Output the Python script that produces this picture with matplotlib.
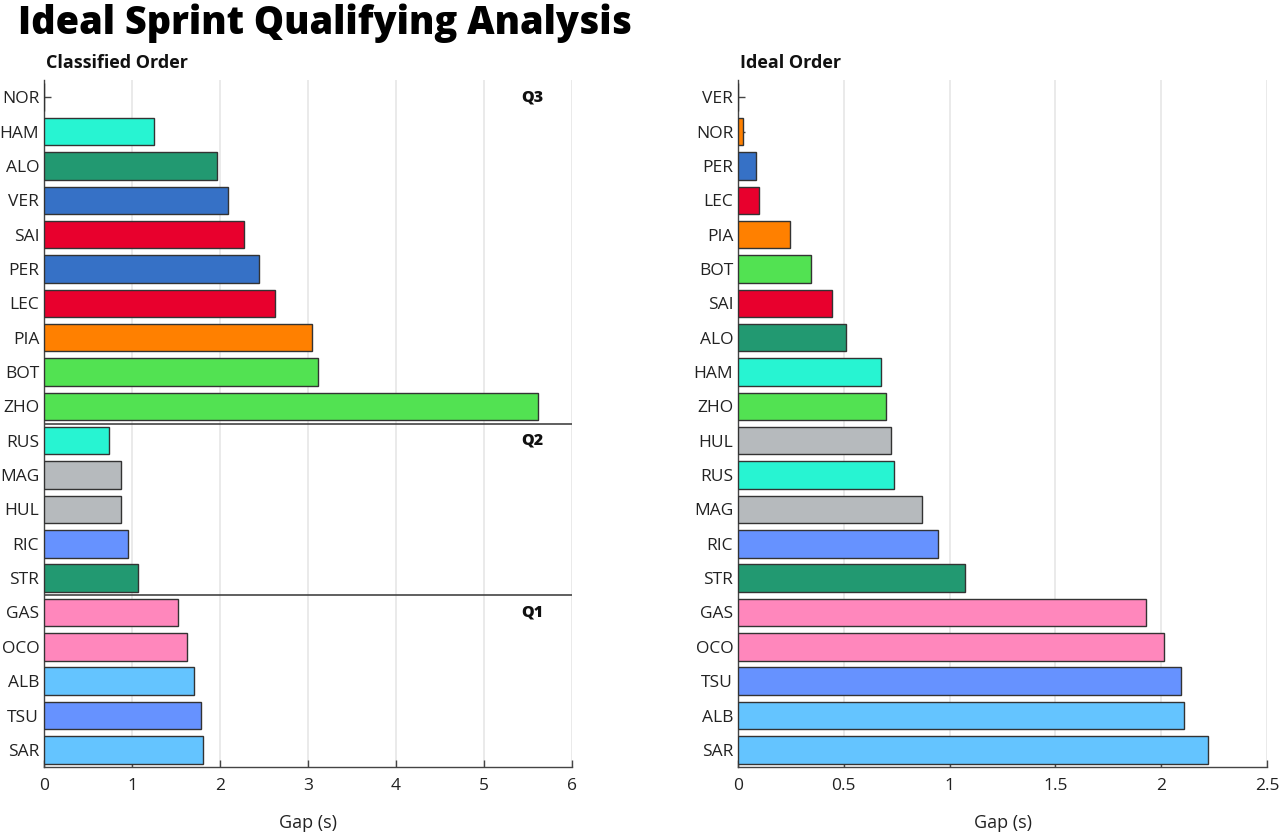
import matplotlib
matplotlib.use("Agg")
import matplotlib.pyplot as plt

# Classified order (top to bottom)
classified_drivers = ["NOR", "HAM", "ALO", "VER", "SAI", "PER", "LEC", "PIA", "BOT", "ZHO",
                      "RUS", "MAG", "HUL", "RIC", "STR",
                      "GAS", "OCO", "ALB", "TSU", "SAR"]
classified_gaps = [0.0, 1.25, 1.97, 2.09, 2.27, 2.44, 2.63, 3.05, 3.11, 5.61,
                   0.735, 0.87, 0.876, 0.95, 1.07,
                   1.52, 1.62, 1.70, 1.78, 1.81]

# Ideal order (top to bottom)
ideal_drivers = ["VER", "NOR", "PER", "LEC", "PIA", "BOT", "SAI", "ALO", "HAM", "ZHO",
                 "HUL", "RUS", "MAG", "RIC", "STR", "GAS", "OCO", "TSU", "ALB", "SAR"]
ideal_gaps = [0.0, 0.022, 0.084, 0.10, 0.245, 0.343, 0.445, 0.51, 0.677, 0.698,
              0.722, 0.737, 0.867, 0.944, 1.071, 1.926, 2.015, 2.094, 2.107, 2.221]

team_colors = {
    "NOR": "#FF8000", "PIA": "#FF8000",
    "HAM": "#27F4D2", "RUS": "#27F4D2",
    "ALO": "#229971", "STR": "#229971",
    "VER": "#3671C6", "PER": "#3671C6",
    "SAI": "#E8002D", "LEC": "#E8002D",
    "BOT": "#52E252", "ZHO": "#52E252",
    "MAG": "#B6BABD", "HUL": "#B6BABD",
    "RIC": "#6692FF", "TSU": "#6692FF",
    "GAS": "#FF87BC", "OCO": "#FF87BC",
    "ALB": "#64C4FF", "SAR": "#64C4FF",
}

session_labels = ["Q3", "Q2", "Q1"]
session_start_rows = [0, 10, 15]

plt.rcParams['font.family'] = ['Open Sans', 'DejaVu Sans']

fig = plt.figure(figsize=(12.8, 8.34), dpi=100)
ax1 = fig.add_axes([0.0344, 0.0803, 0.4125, 0.8237])
ax2 = fig.add_axes([0.5766, 0.0803, 0.4133, 0.8237])


def style_axes(ax, drivers, gaps, xlim, xticks, xticklabels):
    y = list(range(len(drivers)))
    ax.barh(y, gaps, height=0.8, color=[team_colors[d] for d in drivers],
            edgecolor="#333333", linewidth=1.0, zorder=3)
    ax.set_yticks(y)
    ax.set_yticklabels(drivers)
    ax.set_ylim(len(drivers) - 0.5, -0.5)
    ax.set_xlim(*xlim)
    ax.set_xticks(xticks)
    ax.set_xticklabels(xticklabels)
    ax.grid(axis="x", color="#e6e6e6", linewidth=1.2, zorder=0)
    ax.set_axisbelow(True)
    for s in ["top", "right"]:
        ax.spines[s].set_visible(False)
    for s in ["left", "bottom"]:
        ax.spines[s].set_color("#444444")
        ax.spines[s].set_linewidth(1.0)
    ax.tick_params(direction="in", length=5, color="#444444", labelsize=12.5,
                   labelcolor="#222222", width=1.0)
    ax.tick_params(axis="x", pad=8)
    ax.set_xlabel("Gap (s)", fontsize=13, color="#222222", labelpad=14)


style_axes(ax1, classified_drivers, classified_gaps, (0, 6),
           [0, 1, 2, 3, 4, 5, 6], ["0", "1", "2", "3", "4", "5", "6"])
style_axes(ax2, ideal_drivers, ideal_gaps, (0, 2.5),
           [0, 0.5, 1, 1.5, 2, 2.5], ["0", "0.5", "1", "1.5", "2", "2.5"])

# session separators and labels
for lab, row in zip(session_labels, session_start_rows):
    if row > 0:
        ax1.axhline(row - 0.5, color="#444444", linewidth=1.2, zorder=4)
    ax1.text(5.55, row, lab, ha="center", va="center", fontsize=11.5,
             fontweight="heavy", color="#111111", zorder=5)

ax1.text(0.003, 1.012, "Classified Order", transform=ax1.transAxes, fontsize=13,
         fontweight="bold", color="#111111", ha="left", va="bottom")
ax2.text(0.003, 1.012, "Ideal Order", transform=ax2.transAxes, fontsize=13,
         fontweight="bold", color="#111111", ha="left", va="bottom")

fig.text(0.014, 0.972, "Ideal Sprint Qualifying Analysis", fontsize=27.3,
         fontweight="heavy", color="#000000", ha="left", va="center",
         family=["Open Sans", "DejaVu Sans"])

fig.savefig("out.png", dpi=100, facecolor="white")
